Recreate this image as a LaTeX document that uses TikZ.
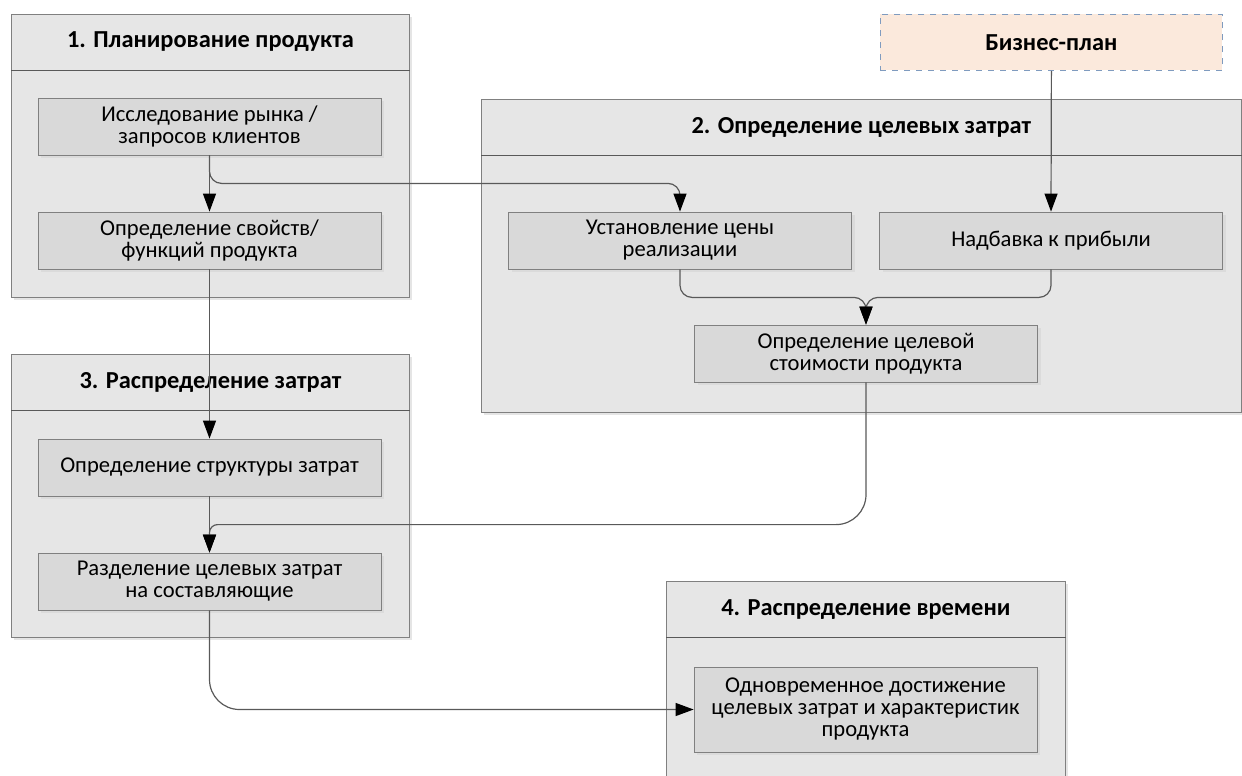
\documentclass[tikz,border=0pt]{standalone}
\usepackage{fontspec}
\setmainfont{Carlito}
\usetikzlibrary{positioning,arrows.meta,shadows}
\definecolor{lanegray}{HTML}{E6E6E6}
\definecolor{taskgray}{HTML}{D9D9D9}
\definecolor{edgegray}{HTML}{808080}
\definecolor{linegray}{HTML}{595959}
\definecolor{planfill}{HTML}{FBE9DC}
\definecolor{planedge}{HTML}{7F9BBF}

\begin{document}
\begin{tikzpicture}[x=0.5pt,y=-0.5pt,
font=\fontsize{11.3pt}{11pt}\selectfont, text=black,
lane/.style ={draw=edgegray, fill=lanegray, anchor=north west, inner sep=0pt,
drop shadow={shadow xshift=1.5pt, shadow yshift=-1.5pt, fill=black!25, opacity=.4}},
lanetitle/.style ={font=\fontsize{12.2pt}{13pt}\selectfont\bfseries},
sep/.style ={draw=linegray, line width=0.5pt},
task/.style ={draw=edgegray, fill=taskgray, align=center, inner sep=2pt,
minimum width=171.5pt, minimum height=28.5pt,
drop shadow={shadow xshift=1.5pt, shadow yshift=-1.5pt, fill=black!20, opacity=.4}},
plan/.style ={draw=planedge, fill=planfill, dashed, anchor=north west,
minimum width=171pt, minimum height=28pt, inner sep=0pt},
flow/.style ={draw=linegray, line width=0.6pt,
-{Triangle[length=9pt,width=6.5pt,color=black]}}]
\useasboundingbox (0,0) rectangle (1242,776);
% lanes
\node[lane, minimum width=199pt, minimum height=141.5pt] (C1) at (11,14) {};
\node[lane, minimum width=380pt, minimum height=156.5pt] (C2) at (481,99) {};
\node[lane, minimum width=199pt, minimum height=141.5pt] (C3) at (11,354) {};
\node[lane, minimum width=199.5pt, minimum height=125pt] (C4) at (666,581) {};
\node[lanetitle] (L1) at ([yshift=-14pt]C1.north) {1. Планирование продукта};
\node[lanetitle] (L2) at ([yshift=-14pt]C2.north) {2. Определение целевых затрат};
\node[lanetitle] (L3) at ([yshift=-14pt]C3.north) {3. Распределение затрат};
\node[lanetitle] (L4) at ([yshift=-14.5pt]C4.north) {4. Распределение времени};
\foreach \c in {C1,C2,C3,C4}
\draw[sep] ([yshift=-28pt]\c.north west) -- ([yshift=-28pt]\c.north east);
% business plan
\node[plan, font=\fontsize{12.2pt}{13pt}\selectfont\bfseries] (BP) at (880,14) {Бизнес-план};
% tasks
\node[task] (T1a) at (209.5,126.5) {Исследование рынка /\\запросов клиентов};
\node[task] (T1b) at (209.5,240.5) {Определение свойств/\\функций продукта};
\node[task] (T2a) at (680,240.5) {Установление цены\\реализации};
\node[task] (T2b) at (1051,240.5) {Надбавка к прибыли};
\node[task] (T2c) at (866,353.5) {Определение целевой\\стоимости продукта};
\node[task] (T3a) at (209.5,467.5) {Определение структуры затрат};
\node[task] (T3b) at (209.5,581.5) {Разделение целевых затрат\\на составляющие};
\node[task, minimum height=42.5pt] (T4) at (865.5,709.5)
{Одновременное достижение\\целевых затрат и характеристик\\продукта};
\coordinate (J) at ([yshift=14pt]T3b.north);
% connectors
\draw[flow] (T1a) -- (T1b);
\draw[flow, rounded corners=6pt] (T1a.south) -- ++(0,28) -| (T2a.north);
\draw[flow] (BP.south) -- (T2b.north);
\draw[flow, rounded corners=6pt] (T2a.south) -- ++(0,28) -| (T2c.north);
\draw[flow, rounded corners=6pt] (T2b.south) -- ++(0,28) -| (T2c.north);
\draw[flow] (T1b) -- (T3a);
\draw[flow] (T3a) -- (T3b);
\draw[flow] (T2c.south) [rounded corners=15pt] -- (T2c.south |- J)
[rounded corners=4pt] -- (J) [sharp corners] -- (T3b.north);
\draw[flow, rounded corners=15pt] (T3b.south) |- (T4.west);
\end{tikzpicture}
\end{document}
